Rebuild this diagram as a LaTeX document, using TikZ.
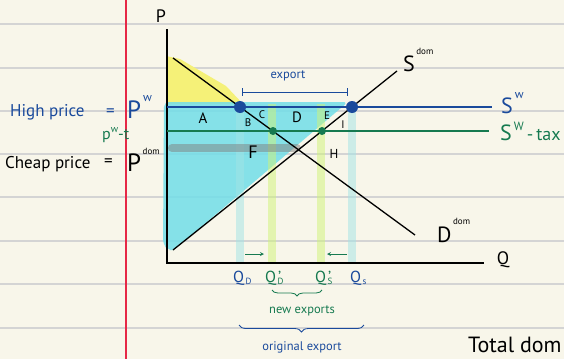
\documentclass[tikz,border=0pt]{standalone}
\usepackage{fontspec}
\setmainfont{PT Sans}
\usetikzlibrary{arrows, positioning, decorations.pathreplacing}

\definecolor{paper}{RGB}{248,246,234}
\definecolor{ruling}{RGB}{212,212,212}
\definecolor{marginred}{RGB}{230,40,70}
\definecolor{inkblue}{RGB}{26,74,156}
\definecolor{inkgreen}{RGB}{22,122,80}
\definecolor{surplus}{RGB}{114,222,232}
\definecolor{consumer}{RGB}{245,241,120}
\definecolor{bandcyan}{RGB}{162,228,230}
\definecolor{bandlime}{RGB}{208,244,118}

\tikzstyle{ruled} = [draw=ruling, line width=1.2pt]
\tikzstyle{axisline} = [line width=1.8pt, black]
\tikzstyle{curve} = [line width=1.3pt, black]
\tikzstyle{world} = [line width=1.4pt, inkblue]
\tikzstyle{taxed} = [line width=1.6pt, inkgreen]
\tikzstyle{bluedot} = [circle, fill=inkblue, inner sep=0pt, minimum size=12pt]
\tikzstyle{greendot} = [circle, fill=inkgreen, inner sep=0pt, minimum size=8pt]
\tikzstyle{band} = [line width=8pt, opacity=0.5]
\tikzstyle{area} = [black, inner sep=0pt, font=\fontsize{15}{15}\selectfont]
\tikzstyle{smallarea} = [black, inner sep=0pt, font=\fontsize{11}{11}\selectfont]
\tikzstyle{hand} = [inner sep=0pt, anchor=base west, font=\fontsize{17}{17}\selectfont]
\tikzstyle{handbig} = [inner sep=0pt, anchor=base west, font=\fontsize{25}{25}\selectfont]
\tikzstyle{curvelabel} = [inner sep=0pt, anchor=base west, font=\fontsize{22}{22}\selectfont]
\tikzstyle{qlabel} = [inner sep=0pt, anchor=base west, font=\fontsize{16}{16}\selectfont]
\tikzstyle{prime} = [inner sep=0pt, inkgreen, anchor=north west, font=\fontsize{16}{16}\selectfont]
\tikzstyle{note} = [inner sep=0pt, font=\fontsize{12.5}{12.5}\selectfont]
\tikzstyle{nudge} = [thick,->,>=stealth, inkgreen]
\tikzstyle{curly} = [decorate, decoration={brace, mirror, amplitude=6pt}, thick]

\begin{document}
\begin{tikzpicture}[x=1pt, y=-1pt]
        \useasboundingbox (0,0) rectangle (564,359);
        % Paper
        \fill[paper] (0,0) rectangle (564,359);
        \foreach \y in {24,68,111,154,197,241,284,328}
            \draw[ruled] (0,\y) -- (564,\y);
        \fill[marginred] (124.5,0) rectangle (126.5,359);

        % Coordinates
        \coordinate (origin) at (167,263);
        \coordinate (ptop) at (167,29);
        \coordinate (qend) at (484,263);
        \coordinate (dtop) at (173,58);
        \coordinate (dbot) at (415,235);
        \coordinate (sbot) at (173,250);
        \coordinate (stop) at (397,71);
        \coordinate (pwL) at (167,107);
        \coordinate (pwR) at (492,107);
        \coordinate (ptL) at (167,131);
        \coordinate (ptR) at (489,131);

        % Surplus areas
        \fill[consumer] (166,56) -- (180,59) -- (226,86) -- (243,104) -- (166,104) -- cycle;
        \fill[surplus, opacity=0.85, rounded corners=5pt] (164,102) -- (348,102) -- (174,250) -- (168,250) -- (163,244) -- cycle;

        % Quantity bands
        \draw[band, bandcyan] (240,104) -- (240,262);
        \draw[band, bandlime] (272,104) -- (272,262);
        \draw[band, bandlime] (321,104) -- (321,262);
        \draw[band, bandcyan] (352,108) -- (352,262);
        \draw[line width=8pt, line cap=round, gray, opacity=0.5] (172,148) -- (297,148);

        % Curves
        \draw[axisline] (ptop) -- (origin) -- (qend);
        \draw[world] (pwL) -- (pwR);
        \draw[taxed] (ptL) -- (ptR);
        \draw[curve] (dtop) -- (dbot);
        \draw[curve] (sbot) -- (stop);

        % Points
        \node (qd) [bluedot] at (240,107) {};
        \node (qs) [bluedot] at (352,107) {};
        \node (qdt) [greendot] at (273,131) {};
        \node (qst) [greendot] at (322,131) {};

        % Export marks
        \coordinate (exL) at (242,92);
        \coordinate (exR) at (348,92);
        \draw[inkblue, thick, |-|] (exL) -- (exR);
        \node (export) [note, inkblue] at (288,76) {export};
        \coordinate (moveL) at (245,254);
        \coordinate (moveLend) at (264,254);
        \coordinate (moveR) at (347,254);
        \coordinate (moveRend) at (327,254);
        \draw[nudge] (moveL) -- (moveLend);
        \draw[nudge] (moveR) -- (moveRend);

        % Area letters
        \node (A) [area] at (203,118) {A};
        \node (B) [smallarea] at (248,123) {B};
        \node (C) [smallarea] at (262,115) {C};
        \node (D) [area] at (297,117) {D};
        \node (E) [smallarea] at (327,116) {E};
        \node (I) [smallarea] at (343,125) {I};
        \node (F) [area, font=\fontsize{18}{18}\selectfont] at (253,152) {F};
        \node (H) [area, font=\fontsize{13}{13}\selectfont] at (334,154) {H};

        % Axis and curve labels
        \node (plabel) [inner sep=0pt, font=\fontsize{18}{18}\selectfont] at (161,16) {P};
        \node (qlabel) [inner sep=0pt, font=\fontsize{18}{18}\selectfont] at (503,260) {Q};
        \node (sdom) [curvelabel] at (403,71) {S\raisebox{17pt}{\fontsize{9}{9}\selectfont\,dom}};
        \node (ddom) [curvelabel] at (437,242) {D\raisebox{18pt}{\fontsize{9}{9}\selectfont\,dom}};
        \node (sw) [curvelabel, inkblue] at (501,113) {S\raisebox{15pt}{\fontsize{12}{12}\selectfont\,w}};
        \node (swtax) [curvelabel, inkgreen] at (500,140) {S\raisebox{10pt}{\fontsize{12}{12}\selectfont\,W}\fontsize{18}{18}\selectfont\,-\,tax};

        % Price labels
        \node (high) [hand, inkblue] at (10,116) {High price};
        \node (higheq) [hand, inkblue] at (106,116) {=};
        \node (pw) [handbig, inkblue] at (127,118) {P\raisebox{17pt}{\fontsize{12}{12}\selectfont\,w}};
        \node (pwt) [hand, inkgreen, font=\fontsize{16}{16}\selectfont] at (102,139) {p\raisebox{7pt}{\fontsize{10}{10}\selectfont w}-t};
        \node (cheap) [hand] at (5,168) {Cheap price};
        \node (cheapeq) [hand] at (104,166) {=};
        \node (pdom) [handbig] at (127,171) {P\raisebox{17pt}{\fontsize{9}{9}\selectfont\,dom}};

        % Quantity labels
        \node (lqd) [qlabel, inkblue] at (233,282) {Q\raisebox{-2pt}{\fontsize{9}{9}\selectfont\,D}};
        \node (lqdt) [qlabel, inkgreen] at (265,282) {Q\raisebox{-2pt}{\fontsize{9}{9}\selectfont\,D}};
        \node (lqst) [qlabel, inkgreen] at (315,282) {Q\raisebox{-2pt}{\fontsize{9}{9}\selectfont\,S}};
        \node (lqs) [qlabel, inkblue] at (350,282) {Q\raisebox{-2pt}{\fontsize{9}{9}\selectfont\,s}};
        \node (primeD) [prime] at ([xshift=13pt, yshift=-1pt]lqdt.north west) {\textquoteright};
        \node (primeS) [prime] at ([xshift=13pt, yshift=-1pt]lqst.north west) {\textquoteright};

        % Braces
        \draw[curly, inkgreen] (272,290) -- (322,290);
        \node (newex) [note, inkgreen] at (302,311) {new exports};
        \draw[curly, inkblue, decoration={amplitude=7pt}] (239,325) -- (364,325);
        \node (origex) [note, inkblue] at (302,347) {original export};

        % Next note
        \node (total) [curvelabel] at (468,352) {Total dom};
    \end{tikzpicture}
\end{document}
